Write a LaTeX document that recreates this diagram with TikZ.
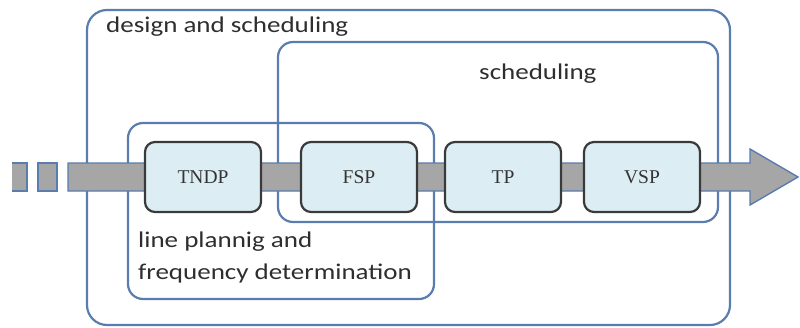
\documentclass[tikz,border=0pt]{standalone}
\usepackage{fontspec}
\setmainfont{Liberation Serif}
\newfontfamily\labelfont{Carlito}
\definecolor{boxblue}{HTML}{5A7CAE}
\definecolor{bargray}{HTML}{A6A6A6}
\definecolor{nodefill}{HTML}{DCEEF4}
\definecolor{nodeline}{HTML}{3A3A3A}
\definecolor{labeltext}{HTML}{2E2E2E}
\tikzset{
  groupbox/.style={draw=boxblue, line width=2.2pt},
  stepbox/.style={draw=nodeline, fill=nodefill, line width=2.2pt, rounded corners=10pt,
    minimum width=116pt, minimum height=70pt, inner sep=0pt,
    font=\fontsize{19.5}{22}\selectfont, text=nodeline!90!black},
  grouplabel/.style={inner sep=0pt, text=labeltext, font=\labelfont\fontsize{22.5}{32}\selectfont},
  barshape/.style={fill=bargray, draw=boxblue, line width=1.4pt, line join=miter}
}
\newcommand{\wide}[1]{\scalebox{1.2}[1]{#1}}
\begin{document}
\begin{tikzpicture}[x=1pt,y=-1pt]
\useasboundingbox (0,0) rectangle (800,327);
% group boxes
\draw[groupbox, rounded corners=20pt] (87,10) rectangle (730,325);
\draw[groupbox, rounded corners=15pt] (278,42) rectangle (718,222);
\draw[groupbox, rounded corners=15pt] (128,123) rectangle (434,299);
% process arrow
\fill[bargray] (12,163) rectangle (27,191);
\draw[boxblue, line width=1.4pt] (12,163) -- (27,163) -- (27,191) -- (12,191);
\draw[barshape] (38,163) rectangle (57,191);
\draw[barshape] (68,163) -- (750,163) -- (750,149) -- (798,177) -- (750,205) -- (750,191) -- (68,191) -- cycle;
% steps
\node[stepbox] (tndp) at (203,177) {TNDP};
\node[stepbox] (fsp) at (359,177) {FSP};
\node[stepbox] (tp) at (503,177) {TP};
\node[stepbox] (vsp) at (642,177) {VSP};
% labels
\node[grouplabel, anchor=base west] (ds) at (106,32) {\wide{design and scheduling}};
\node[grouplabel, anchor=base west] (sch) at (479,79) {\wide{scheduling}};
\node[grouplabel, anchor=base west] (lp1) at (138,247) {\wide{line plannig and}};
\node[grouplabel, anchor=base west] (lp2) at (138,279) {\wide{frequency determination}};
\end{tikzpicture}
\end{document}
